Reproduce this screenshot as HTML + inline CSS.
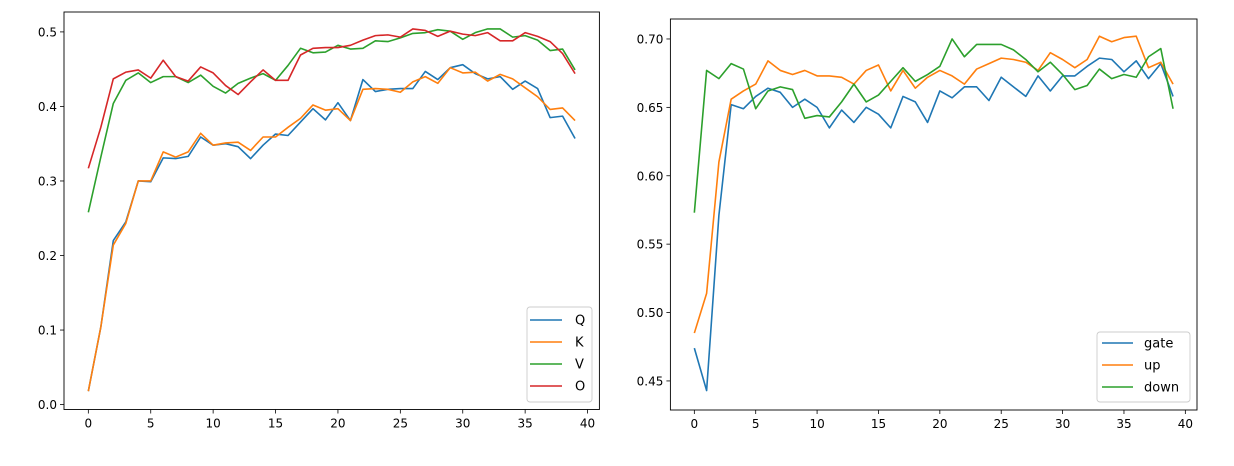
<!DOCTYPE html>
<html><head><meta charset="utf-8"><style>
html,body{margin:0;padding:0;background:#fff;}
svg{display:block;font-family:"DejaVu Sans","Liberation Sans",sans-serif;}
</style></head><body>
<svg id="root" width="1234" height="466" viewBox="0 0 1234 466"></svg>
<script>
const xCats = Array.from({length:40},(_,i)=>i);
const qVals = [0.018,0.104,0.220,0.245,0.300,0.299,0.331,0.330,0.333,0.359,0.348,0.350,0.346,0.330,0.348,0.363,0.361,0.379,0.397,0.382,0.405,0.381,0.436,0.420,0.423,0.424,0.424,0.447,0.436,0.452,0.456,0.444,0.437,0.440,0.423,0.434,0.424,0.385,0.387,0.357];
const kVals = [0.018,0.104,0.214,0.243,0.300,0.300,0.339,0.332,0.339,0.364,0.348,0.351,0.352,0.341,0.359,0.359,0.372,0.384,0.402,0.395,0.397,0.381,0.423,0.424,0.423,0.419,0.433,0.440,0.431,0.452,0.445,0.446,0.434,0.443,0.437,0.425,0.413,0.396,0.398,0.381];
const vVals = [0.258,0.332,0.404,0.435,0.445,0.432,0.440,0.440,0.432,0.442,0.427,0.418,0.431,0.438,0.444,0.435,0.455,0.478,0.472,0.473,0.482,0.477,0.478,0.488,0.487,0.492,0.498,0.499,0.503,0.501,0.490,0.499,0.504,0.504,0.493,0.495,0.489,0.475,0.477,0.449];
const oVals = [0.317,0.372,0.437,0.446,0.449,0.438,0.462,0.440,0.434,0.453,0.445,0.428,0.416,0.433,0.449,0.435,0.435,0.469,0.478,0.479,0.479,0.482,0.489,0.495,0.496,0.493,0.504,0.502,0.494,0.501,0.497,0.495,0.499,0.488,0.488,0.499,0.494,0.487,0.471,0.444];
const gateVals = [0.474,0.443,0.571,0.652,0.649,0.658,0.664,0.661,0.650,0.656,0.650,0.635,0.648,0.639,0.650,0.645,0.635,0.658,0.654,0.639,0.662,0.657,0.665,0.665,0.655,0.672,0.665,0.658,0.673,0.662,0.673,0.673,0.680,0.686,0.685,0.676,0.684,0.671,0.682,0.658];
const upVals = [0.485,0.514,0.610,0.656,0.662,0.667,0.684,0.677,0.674,0.677,0.673,0.673,0.672,0.667,0.677,0.681,0.662,0.677,0.664,0.672,0.677,0.673,0.667,0.678,0.682,0.686,0.685,0.683,0.677,0.690,0.685,0.679,0.685,0.702,0.698,0.701,0.702,0.679,0.683,0.667];
const downVals = [0.573,0.677,0.671,0.682,0.678,0.649,0.662,0.665,0.663,0.642,0.644,0.643,0.654,0.667,0.654,0.659,0.669,0.679,0.669,0.674,0.680,0.700,0.687,0.696,0.696,0.696,0.692,0.685,0.676,0.683,0.674,0.663,0.666,0.678,0.671,0.674,0.672,0.687,0.693,0.649];
const xTicks = [0,5,10,15,20,25,30,35,40];
const leftYTicks = [0.0,0.1,0.2,0.3,0.4,0.5];
const leftYLabels = ["0.0","0.1","0.2","0.3","0.4","0.5"];
const rightYTicks = [0.45,0.50,0.55,0.60,0.65,0.70];
const rightYLabels = ["0.45","0.50","0.55","0.60","0.65","0.70"];
const leftNames = ["Q","K","V","O"];
const rightNames = ["gate","up","down"];

const NS="http://www.w3.org/2000/svg";
const root=document.getElementById('root');
const C=["#1f77b4","#ff7f0e","#2ca02c","#d62728"];
function mk(tag,attrs,parent){const e=document.createElementNS(NS,tag);for(const k in attrs)e.setAttribute(k,attrs[k]);parent.appendChild(e);return e;}

function drawChart(name,box,xd,yd,yTicks,yLabels,series,names,leg){
  const g=mk('g',{},root);
  
  
  const sx=v=>box.l+(v-xd[0])/(xd[1]-xd[0])*(box.r-box.l);
  const sy=v=>box.b-(v-yd[0])/(yd[1]-yd[0])*(box.b-box.t);
  const frame=mk('rect',{x:box.l,y:box.t,width:box.r-box.l,height:box.b-box.t,fill:'none',stroke:'#000','stroke-width':0.9},g);
  
  
  xTicks.forEach(t=>{
    const x=sx(t);
    mk('line',{x1:x,x2:x,y1:box.b,y2:box.b+4,stroke:'#000','stroke-width':0.8},g);
    const tx=mk('text',{x:x,y:box.b+18,'font-size':12,'text-anchor':'middle',fill:'#000'},g);
    tx.textContent=t;
    
    
  });
  yTicks.forEach((t,i)=>{
    const y=sy(t);
    mk('line',{x1:box.l-4,x2:box.l,y1:y,y2:y,stroke:'#000','stroke-width':0.8},g);
    const tx=mk('text',{x:box.l-7,y:y+4.5,'font-size':12,'text-anchor':'end',fill:'#000'},g);
    tx.textContent=yLabels[i];
    
    
  });
  series.forEach((s,si)=>{
    const d=s.map((v,i)=>(i?'L':'M')+sx(xCats[i]).toFixed(2)+','+sy(v).toFixed(2)).join('');
    const p=mk('path',{d:d,fill:'none',stroke:C[si],'stroke-width':1.6,'stroke-linejoin':'round'},g);
    
    
  });
  const lg=mk('g',{},g);
  
  
  mk('rect',{x:leg.x,y:leg.y,width:leg.w,height:leg.h,rx:3,fill:'#fff','fill-opacity':0.8,stroke:'#ccc','stroke-width':0.9},lg);
  names.forEach((n,i)=>{
    const y=leg.y0+i*22;
    const e=mk('g',{},lg);
    
    
    mk('line',{x1:leg.lx1,x2:leg.lx2,y1:y,y2:y,stroke:C[i],'stroke-width':1.6},e);
    const t=mk('text',{x:leg.tx,y:y+4.5,'font-size':13,fill:'#000'},e);
    t.textContent=n;
  });
}
drawChart('left-chart',{l:64,r:599.4,t:12,b:409.5},[-1.95,40.95],[-0.0066,0.5267],leftYTicks,leftYLabels,[qVals,kVals,vVals,oVals],leftNames,
  {x:527,y:307,w:65,h:95,y0:320,lx1:530,lx2:562,tx:575});
drawChart('right-chart',{l:670.4,r:1197,t:19,b:410},[-1.95,40.95],[0.42875,0.7146],rightYTicks,rightYLabels,[gateVals,upVals,downVals],rightNames,
  {x:1097,y:332,w:93,h:70,y0:343,lx1:1102,lx2:1133,tx:1144});
</script>
</body></html>
